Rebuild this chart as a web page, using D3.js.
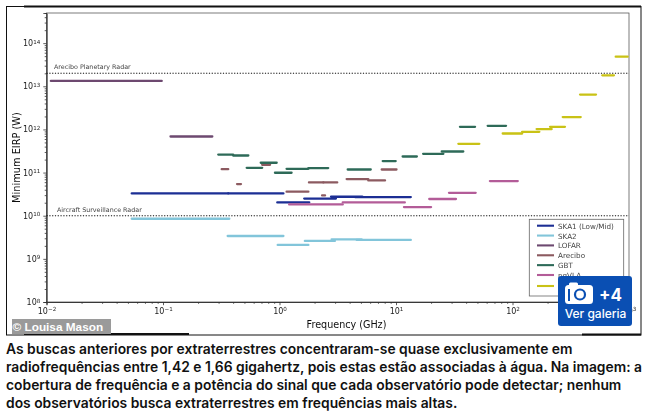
<!DOCTYPE html>
<html lang="pt">
<head>
    <meta charset="UTF-8">
    <title>Minimum EIRP</title>
    <script src="https://cdnjs.cloudflare.com/ajax/libs/d3/7.8.5/d3.min.js"></script>
</head>
<style>
    body{
        margin:0;
        background:#fff;
    }
    svg{
        display:block;
    }
    .axis text{
        font-family:"DejaVu Sans";
        font-size:8px;
        fill:#222;
    }
    .axis path, .axis line{
        stroke:#333;
        stroke-width:0.8;
    }
    .caption{
        font-family:Inter, "Noto Sans", sans-serif;
        font-weight:600;
        font-size:13.85px;
        fill:#111;
    }
</style>
<body>
<div id="container"></div>
<script>
    // each segment: [low GHz, high GHz, EIRP in W]
    var ska1 = [[0.0539,0.363,3.28e10],[0.363,1.08,3.28e10],[0.957,1.80,2.03e10],[1.63,3.05,2.5e10],[2.77,5.14,2.75e10],[4.45,13.4,2.7e10]];
    var ska2 = [[0.0539,0.371,8.5e9],[0.359,1.08,3.39e9],[0.965,1.77,2.1e9],[1.65,2.99,2.6e9],[2.8,5.07,2.83e9],[4.6,13.4,2.74e9]];
    var lofar = [[0.0109,0.0975,1.33e13],[0.116,0.265,6.85e11]];
    var arecibo = [[0.319,0.363,1.2e11],[0.432,0.467,5.4e10],[0.71,0.83,1.52e11],[1.15,1.77,3.6e10],[1.79,2.38,5.9e10],[2.38,3.13,5.9e10],[2.32,2.46,2.95e10],[3.77,5.78,7.07e10],[5.78,8.05,6.57e10],[7.54,10.1,1.18e11]];
    var gbt = [[0.298,0.40,2.62e11],[0.40,0.54,2.49e11],[0.523,0.71,1.29e11],[0.69,0.946,1.69e11],[0.914,1.27,9.9e10],[1.15,1.77,1.22e11],[1.77,2.62,1.27e11],[3.85,6.07,1.18e11],[7.69,9.94,1.85e11],[11.4,15.1,2.36e11],[17.1,25.5,2.72e11],[24.7,37.8,3.08e11],[35.4,47.7,1.15e12],[61.2,88,1.21e12]];
    var ngvla = [[1.21,3.49,1.83e10],[3.49,11.9,2.03e10],[11.7,20,1.59e10],[19.3,32.7,2.44e10],[28.5,48.3,3.4e10],[64,111,6.35e10]];
    var alma = [[34.3,51.9,4.64e11],[82.4,121,8.04e11],[121,170,8.8e11],[161,217,1.02e12],[210,282,1.15e12],[270,385,1.93e12],[380,521,6.43e12],[590,743,1.8e13],[769,975,4.87e13]];

    var seriesNames = ["SKA1  (Low/Mid)","SKA2","LOFAR","Arecibo","GBT","ngVLA","ALMA"];
    var seriesData = [ska1,ska2,lofar,arecibo,gbt,ngvla,alma];
    var seriesColors = ["#1c2f94","#82c5da","#6d4a70","#8c5a60","#2f6b58","#b35c98","#c9c214"];

    var radarNames = ["Arecibo Planetary Radar","Aircraft Surveillance Radar"];
    var radarPower = [2e13,1e10];

    var xTicks = [1e-2,1e-1,1,1e1,1e2,1e3];
    var yTicks = [1e8,1e9,1e10,1e11,1e12,1e13,1e14];

    var captionLines = [
        "As buscas anteriores por extraterrestres concentraram-se quase exclusivamente em",
        "radiofrequências entre 1,42 e 1,66 gigahertz, pois estas estão associadas à água. Na imagem: a",
        "cobertura de frequência e a potência do sinal que cada observatório pode detectar; nenhum",
        "dos observatórios busca extraterrestres em frequências mais altas."
    ];

    var svg = d3.select("#container").append("svg")
        .attr("width",649)
        .attr("height",414);

    // the source is a soft upscaled jpeg
    svg.append("filter").attr("id","soft")
        .append("feGaussianBlur").attr("stdDeviation",0.35);

    var left = 46.5, right = 629, top_ = 13, bottom = 302;

    var x = d3.scaleLog().domain([1e-2,1e3]).range([left,right]);
    var y = d3.scaleLog().domain([1e8,5e14]).range([bottom,top_]);

    var plot = svg.append("g").attr("filter","url(#soft)");

    function minorTicks(domain){
        var out = [];
        for(var e = Math.floor(Math.log10(domain[0])); e < Math.log10(domain[1]); e++){
            for(var m = 2; m < 10; m++){
                var v = m*Math.pow(10,e);
                if(v < domain[1]) out.push(v);
            }
        }
        return out;
    }

    function powerLabel(sel){
        sel.each(function(d){
            var e = Math.round(Math.log10(d));
            var t = d3.select(this).text("10");
            t.append("tspan").attr("dy","-0.45em").style("font-size","5.6px")
                .text(String(e).replace("-","\u2212"));
        });
    }

    plot.append("rect")
        .attr("x",left).attr("y",top_)
        .attr("width",right-left).attr("height",bottom-top_)
        .style("fill","none").style("stroke","#444").style("stroke-width",0.7);

    plot.append("g").attr("class","axis").attr("transform","translate(0,"+bottom+")")
        .call(d3.axisBottom(x).tickValues(minorTicks(x.domain())).tickSize(1.8).tickFormat(""));
    var gx = plot.append("g").attr("class","axis").attr("transform","translate(0,"+bottom+")")
        .call(d3.axisBottom(x).tickValues(xTicks).tickSize(3.2).tickPadding(3));
    gx.selectAll("text").call(powerLabel);

    plot.append("g").attr("class","axis").attr("transform","translate("+left+",0)")
        .call(d3.axisLeft(y).tickValues(minorTicks(y.domain())).tickSize(1.8).tickFormat(""));
    var gy = plot.append("g").attr("class","axis").attr("transform","translate("+left+",0)")
        .call(d3.axisLeft(y).tickValues(yTicks).tickSize(3.2).tickPadding(3));
    gy.selectAll("text").call(powerLabel);

    // radar reference lines
    plot.selectAll(".radar").data(radarPower).enter().append("line")
        .attr("class","radar")
        .attr("x1",left).attr("x2",right)
        .attr("y1",function(d){return y(d);}).attr("y2",function(d){return y(d);})
        .style("stroke","#111").style("stroke-width",1.1).style("stroke-dasharray","1.2 1.6");
    plot.selectAll(".radarLabel").data(radarNames).enter().append("text")
        .attr("class","radarLabel")
        .attr("x",function(d,i){return i==0?54:57;})
        .attr("y",function(d,i){return y(radarPower[i])-(i==0?4:3.5);})
        .style("font-family","DejaVu Sans").style("font-size","6.35px").style("fill","#444")
        .text(function(d){return d;});

    seriesData.forEach(function(rows,i){
        plot.append("g").selectAll("line").data(rows).enter().append("line")
            .attr("x1",function(d){return x(d[0]);})
            .attr("x2",function(d){return x(d[1]);})
            .attr("y1",function(d){return y(d[2]);})
            .attr("y2",function(d){return y(d[2]);})
            .style("stroke",seriesColors[i])
            .style("stroke-width",2.3)
            .style("stroke-linecap","round");
    });

    plot.append("text")
        .attr("transform","translate(20,157.5) rotate(-90)")
        .attr("text-anchor","middle")
        .style("font-family","DejaVu Sans").style("font-size","9.8px").style("fill","#111")
        .text("Minimum EIRP (W)");
    plot.append("text")
        .attr("x",346.5).attr("y",328)
        .attr("text-anchor","middle")
        .style("font-family","DejaVu Sans").style("font-size","9.6px").style("fill","#111")
        .text("Frequency (GHz)");

    // legend
    var legendRow = d3.scaleLinear().domain([0,5]).range([225.7,275]);
    plot.append("rect")
        .attr("x",529.3).attr("y",219.3).attr("width",94.4).attr("height",76.7)
        .style("fill","#fff").style("stroke","#666").style("stroke-width",0.8);
    var rows = plot.selectAll(".legendRow").data(seriesNames).enter().append("g")
        .attr("class","legendRow")
        .attr("transform",function(d,i){return "translate(0,"+(i==6?286:legendRow(i))+")";});
    rows.append("line")
        .attr("x1",537).attr("x2",554)
        .style("stroke",function(d,i){return seriesColors[i];})
        .style("stroke-width",2.1);
    rows.append("text")
        .attr("x",558).attr("y",3)
        .style("font-family","DejaVu Sans").style("font-size","7.2px").style("fill","#444")
        .text(function(d){return d;});

    // photo frame
    var frame = svg.append("g").style("stroke","#111").style("fill","none");
    frame.append("rect").attr("x",6.5).attr("y",6.5).attr("width",634.5).attr("height",328.5).style("stroke-width",1);
    frame.append("line").attr("x1",24).attr("x2",641).attr("y1",6.5).attr("y2",6.5).style("stroke-width",2);
    frame.append("line").attr("x1",24).attr("x2",189).attr("y1",334).attr("y2",334).style("stroke-width",2);
    frame.append("line").attr("x1",582).attr("x2",641).attr("y1",334.5).attr("y2",334.5).style("stroke-width",2);

    // watermark
    svg.append("rect").attr("x",12).attr("y",319).attr("width",99).attr("height",15).style("fill","#9a9a9a");
    svg.append("text").attr("x",12.5).attr("y",331)
        .style("font-family","Liberation Sans").style("font-weight","700").style("font-size","11.8px").style("fill","#fff")
        .text("© Louisa Mason");

    // gallery badge
    var badge = svg.append("g");
    badge.append("rect").attr("x",558).attr("y",276).attr("width",74).attr("height",50).attr("rx",3).style("fill","#0a4fb3");
    badge.append("rect").attr("x",565).attr("y",285).attr("width",28).attr("height",19).attr("rx",3.5).style("fill","#fff");
    badge.append("rect").attr("x",569).attr("y",282.5).attr("width",9).attr("height",4).attr("rx",1.5).style("fill","#fff");
    badge.append("rect").attr("x",568).attr("y",289).attr("width",2).attr("height",12).style("fill","#0a4fb3");
    badge.append("circle").attr("cx",580).attr("cy",294.5).attr("r",5).style("fill","#fff").style("stroke","#0a4fb3").style("stroke-width",2.2);
    badge.append("text").attr("x",599).attr("y",301)
        .style("font-family","Inter").style("font-weight","700").style("font-size","17px").style("fill","#fff")
        .text("+4");
    badge.append("text").attr("x",595.5).attr("y",318).attr("text-anchor","middle")
        .style("font-family","Inter").style("font-weight","500").style("font-size","12px").style("fill","#fff")
        .text("Ver galeria");

    svg.selectAll(".caption").data(captionLines).enter().append("text")
        .attr("class","caption")
        .attr("x",6)
        .attr("y",function(d,i){return 354+i*18;})
        .text(function(d){return d;});
</script>
</body>
</html>
